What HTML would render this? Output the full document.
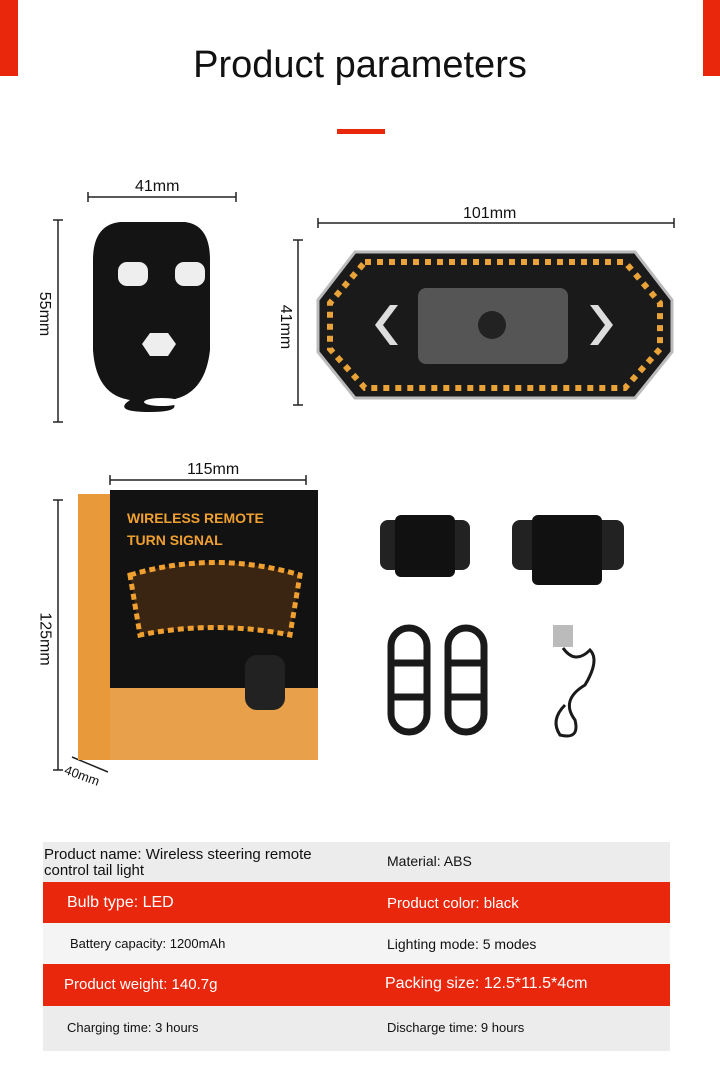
<!DOCTYPE html>
<html><head><meta charset="utf-8"><style>
html,body{margin:0;padding:0;background:#fff;}
body{width:720px;height:1085px;position:relative;overflow:hidden;font-family:"Liberation Sans",sans-serif;color:#111;}
.a{position:absolute;}
.t{font-size:15px;}
</style></head><body>
<div class="a" style="left:0;top:0;width:18px;height:76px;background:#e8270d"></div>
<div class="a" style="left:703px;top:0;width:17px;height:76px;background:#e8270d"></div>
<div class="a" style="left:0;top:44px;width:720px;text-align:center;font-size:38px;">Product parameters</div>
<div class="a" style="left:337px;top:129px;width:48px;height:5px;background:#e8270d"></div>

<!-- dimension lines -->
<svg class="a" style="left:0;top:0" width="720" height="840">
<g stroke="#222" stroke-width="1.5" fill="none">
<line x1="88" y1="197" x2="236" y2="197"/><line x1="88" y1="192" x2="88" y2="202"/><line x1="236" y1="192" x2="236" y2="202"/>
<line x1="58" y1="220" x2="58" y2="422"/><line x1="53" y1="220" x2="63" y2="220"/><line x1="53" y1="422" x2="63" y2="422"/>
<line x1="318" y1="223" x2="674" y2="223"/><line x1="318" y1="218" x2="318" y2="228"/><line x1="674" y1="218" x2="674" y2="228"/>
<line x1="298" y1="240" x2="298" y2="405"/><line x1="293" y1="240" x2="303" y2="240"/><line x1="293" y1="405" x2="303" y2="405"/>
<line x1="110" y1="480" x2="306" y2="480"/><line x1="110" y1="475" x2="110" y2="485"/><line x1="306" y1="475" x2="306" y2="485"/>
<line x1="58" y1="500" x2="58" y2="770"/><line x1="53" y1="500" x2="63" y2="500"/><line x1="53" y1="770" x2="63" y2="770"/>
<line x1="72" y1="757" x2="108" y2="772"/>
</g>
<!-- remote -->
<path d="M120 222 H185 Q210 225 210 260 V350 Q205 395 170 400 Q185 412 150 412 Q112 412 130 400 Q96 395 93 350 V260 Q93 225 120 222Z" fill="#141414"/>
<rect x="118" y="262" width="30" height="24" rx="9" fill="#eee"/>
<rect x="175" y="262" width="30" height="24" rx="9" fill="#eee"/>
<polygon points="150,333 168,333 176,344 168,356 150,356 142,344" fill="#eee"/>
<ellipse cx="162" cy="402" rx="18" ry="4" fill="#fff"/>
<!-- tail light -->
<polygon points="355,252 635,252 672,300 672,352 635,398 355,398 318,352 318,300" fill="#1a1a1a" stroke="#bbb" stroke-width="3"/>
<polygon points="365,262 625,262 660,303 660,349 625,388 365,388 330,349 330,303" fill="none" stroke="#e9a338" stroke-width="6" stroke-dasharray="6 6"/>
<rect x="418" y="288" width="150" height="76" rx="8" fill="#555"/>
<circle cx="492" cy="325" r="14" fill="#222"/>
<polygon points="390,305 375,325 390,345 398,345 383,325 398,305" fill="#ddd"/>
<polygon points="598,305 613,325 598,345 590,345 605,325 590,305" fill="#ddd"/>
<!-- box -->
<rect x="78" y="494" width="32" height="266" fill="#e89a3a"/>
<rect x="110" y="490" width="208" height="270" fill="#121212"/>
<rect x="110" y="688" width="208" height="72" fill="#e9a04a"/>
<path d="M130 575 Q215 550 300 575 L290 635 Q215 620 140 635Z" fill="#3a2412" stroke="#f0a030" stroke-width="5" stroke-dasharray="6 4"/>
<rect x="245" y="655" width="40" height="55" rx="12" fill="#222"/>
<!-- mounts -->
<rect x="380" y="520" width="90" height="50" rx="8" fill="#222"/>
<rect x="395" y="515" width="60" height="62" rx="6" fill="#111"/>
<rect x="512" y="520" width="112" height="50" rx="8" fill="#222"/>
<rect x="532" y="515" width="70" height="70" rx="6" fill="#111"/>
<!-- straps -->
<g fill="none" stroke="#1a1a1a" stroke-width="7">
<rect x="391" y="628" width="36" height="104" rx="18"/><line x1="391" y1="663" x2="427" y2="663"/><line x1="391" y1="697" x2="427" y2="697"/>
<rect x="448" y="628" width="36" height="104" rx="18"/><line x1="448" y1="663" x2="484" y2="663"/><line x1="448" y1="697" x2="484" y2="697"/>
<path d="M563 648 Q575 665 590 650 Q600 660 585 685 Q560 700 575 720 Q580 740 560 735 Q550 720 565 705" stroke-width="3"/>
</g>
<rect x="553" y="625" width="20" height="22" fill="#bbb"/>
</svg>

<div class="a" style="left:135px;top:178px;font-size:16px;">41mm</div>
<div class="a" style="left:463px;top:205px;font-size:16px;">101mm</div>
<div class="a" style="left:187px;top:461px;font-size:16px;">115mm</div>
<div class="a" style="left:22px;top:305px;font-size:16px;transform:rotate(90deg);">55mm</div>
<div class="a" style="left:263px;top:318px;font-size:16px;transform:rotate(90deg);">41mm</div>
<div class="a" style="left:18px;top:630px;font-size:16px;transform:rotate(90deg);">125mm</div>
<div class="a" style="left:64px;top:768px;font-size:13px;transform:rotate(20deg);">40mm</div>
<div class="a" style="left:127px;top:507px;font-size:14px;font-weight:bold;color:#f0a030;line-height:22px;">WIRELESS REMOTE<br>TURN SIGNAL</div>

<!-- table -->
<div class="a" style="left:43px;top:842px;width:627px;height:40px;background:#ececec"></div>
<div class="a" style="left:43px;top:882px;width:627px;height:41px;background:#e8270d"></div>
<div class="a" style="left:43px;top:923px;width:627px;height:41px;background:#f4f4f4"></div>
<div class="a" style="left:43px;top:964px;width:627px;height:42px;background:#e8270d"></div>
<div class="a" style="left:43px;top:1006px;width:627px;height:45px;background:#ececec"></div>
<div class="a" style="left:44px;top:847px;font-size:15px;line-height:16px;">Product name: Wireless steering remote<br>control tail light</div>
<div class="a t" style="left:387px;top:853px;font-size:14px;">Material: ABS</div>
<div class="a" style="left:67px;top:894px;font-size:16px;color:#fff;">Bulb type: LED</div>
<div class="a" style="left:387px;top:895px;font-size:15px;color:#fff;">Product color: black</div>
<div class="a" style="left:70px;top:936px;font-size:13px;">Battery capacity: 1200mAh</div>
<div class="a" style="left:387px;top:936px;font-size:14px;">Lighting mode: 5 modes</div>
<div class="a" style="left:64px;top:976px;font-size:15px;color:#fff;">Product weight: 140.7g</div>
<div class="a" style="left:385px;top:975px;font-size:16px;color:#fff;">Packing size: 12.5*11.5*4cm</div>
<div class="a" style="left:67px;top:1020px;font-size:13px;">Charging time: 3 hours</div>
<div class="a" style="left:387px;top:1020px;font-size:13px;">Discharge time: 9 hours</div>
</body></html>
